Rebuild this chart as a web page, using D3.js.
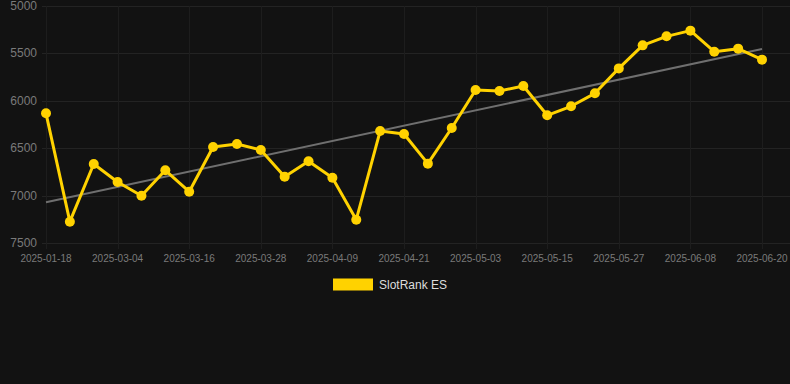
<!DOCTYPE html>
<html>
<head>
<meta charset="utf-8">
<script src="https://cdn.jsdelivr.net/npm/d3@7"></script>
<style>
  html, body { margin: 0; padding: 0; background: #121212; }
  svg { display: block; font-family: Arial, "Liberation Sans", sans-serif; }
</style>
</head>
<body>
<div id="chart"></div>
<script>
const dates = [
  '2025-01-18', '2025-02-24', '2025-02-28', '2025-03-04', '2025-03-08', '2025-03-12',
  '2025-03-16', '2025-03-20', '2025-03-24', '2025-03-28', '2025-04-01', '2025-04-05',
  '2025-04-09', '2025-04-13', '2025-04-17', '2025-04-21', '2025-04-25', '2025-04-29',
  '2025-05-03', '2025-05-07', '2025-05-11', '2025-05-15', '2025-05-19', '2025-05-23',
  '2025-05-27', '2025-05-31', '2025-06-04', '2025-06-08', '2025-06-12', '2025-06-16',
  '2025-06-20',
];
const ranks = [
  6132, 7275, 6667, 6857, 7001, 6733, 6959, 6487, 6456, 6519,
  6800, 6638, 6811, 7254, 6319, 6350, 6663, 6287, 5886, 5897,
  5844, 6153, 6058, 5921, 5658, 5415, 5320, 5260, 5482, 5450,
  5566,
];
const yTicks = [5000, 5500, 6000, 6500, 7000, 7500];
const xTickLabels = dates.filter((d, i) => i % 3 === 0);
const seriesName = 'SlotRank ES';

const width = 790, height = 384;
const svg = d3.select('#chart').append('svg')
  .attr('width', width).attr('height', height);

svg.append('rect').attr('width', width).attr('height', height).attr('fill', '#121212');

const x = d3.scalePoint().domain(dates).range([46, 762]);
const y = d3.scaleLinear().domain([5000, 7500]).range([6, 243]);

// grid
const grid = svg.append('g').attr('class', 'grid');
grid.selectAll('line.h').data(yTicks).join('line')
  .attr('class', 'h')
  .attr('x1', 42).attr('x2', width)
  .attr('y1', d => Math.round(y(d)) + 0.5).attr('y2', d => Math.round(y(d)) + 0.5)
  .attr('stroke', '#232323').attr('stroke-width', 1);
grid.selectAll('line.v').data(xTickLabels).join('line')
  .attr('class', 'v')
  .attr('x1', d => Math.round(x(d)) + 0.5).attr('x2', d => Math.round(x(d)) + 0.5)
  .attr('y1', y(5000)).attr('y2', y(7500) + 6)
  .attr('stroke', '#1d1d1d').attr('stroke-width', 1);

// y axis labels
svg.append('g').selectAll('text').data(yTicks).join('text')
  .attr('x', 37).attr('y', d => y(d) + 4)
  .attr('text-anchor', 'end').attr('fill', '#7a7a7a').attr('font-size', 12)
  .text(d => d);

// x axis labels
svg.append('g').selectAll('text').data(xTickLabels).join('text')
  .attr('x', d => x(d)).attr('y', 262)
  .attr('text-anchor', 'middle').attr('fill', '#7a7a7a').attr('font-size', 10)
  .text(d => d);

// trend (least squares over the points)
const idx = d3.range(ranks.length);
const mx = d3.mean(idx), my = d3.mean(ranks);
const slope = d3.sum(idx, i => (i - mx) * (ranks[i] - my)) / d3.sum(idx, i => (i - mx) ** 2);
const icpt = my - slope * mx;
svg.append('line')
  .attr('x1', x(dates[0])).attr('y1', y(icpt))
  .attr('x2', x(dates[dates.length - 1])).attr('y2', y(icpt + slope * (dates.length - 1)))
  .attr('stroke', '#6f6f6f').attr('stroke-width', 2);

// series
const line = d3.line().x((d, i) => x(dates[i])).y(d => y(d));
svg.append('path').datum(ranks)
  .attr('d', line).attr('fill', 'none')
  .attr('stroke', '#ffd200').attr('stroke-width', 3).attr('stroke-linejoin', 'round');
svg.append('g').selectAll('circle').data(ranks).join('circle')
  .attr('cx', (d, i) => x(dates[i])).attr('cy', d => y(d))
  .attr('r', 5).attr('fill', '#ffd200');

// legend
const legend = svg.append('g');
legend.append('rect').attr('x', 333).attr('y', 278.5).attr('width', 40).attr('height', 12)
  .attr('fill', '#ffd200');
legend.append('text').attr('x', 379).attr('y', 289)
  .attr('fill', '#dddddd').attr('font-size', 12).text(seriesName);
</script>
</body>
</html>
